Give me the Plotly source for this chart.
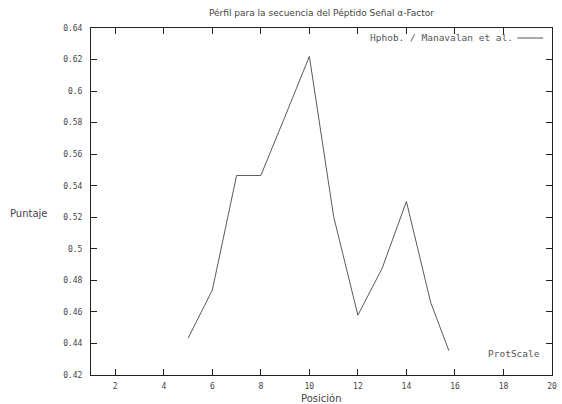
import plotly.graph_objects as go

positions = [5, 6, 7, 8, 9, 10, 11, 12, 13, 14, 15, 15.75]
scores = [0.4433, 0.4738, 0.5465, 0.5465, 0.584, 0.622, 0.5205, 0.4579, 0.4877, 0.530, 0.466, 0.4354]
x_ticks = [2, 4, 6, 8, 10, 12, 14, 16, 18, 20]
y_ticks = [0.42, 0.44, 0.46, 0.48, 0.5, 0.52, 0.54, 0.56, 0.58, 0.6, 0.62, 0.64]
y_labels = ["0.42", "0.44", "0.46", "0.48", "0.5", "0.52", "0.54", "0.56", "0.58", "0.6", "0.62", "0.64"]
series_name = "Hphob. / Manavalan et al."

W, H = 562, 404
L, R, T, B = 91, 5, 28, 29
pw, ph = W - L - R, H - T - B
txt = "#444444"
mono = "DejaVu Sans Mono, monospace"
sans = "DejaVu Sans, sans-serif"

fig = go.Figure()
fig.add_trace(go.Scatter(x=positions, y=scores, mode="lines",
                         line=dict(color="#5a5a5a", width=1), name=series_name,
                         showlegend=False))

axis_common = dict(showline=True, linecolor="#222222", linewidth=1, mirror="ticks",
                   ticks="inside", ticklen=6, tickcolor="#222222", showgrid=False,
                   zeroline=False, tickfont=dict(family=mono, size=8, color=txt))
fig.update_xaxes(range=[1, 20], tickvals=x_ticks, ticktext=[str(v) for v in x_ticks],
                 ticklabelstandoff=3, **axis_common)
fig.update_yaxes(range=[0.42, 0.64], tickvals=y_ticks, ticktext=y_labels,
                 ticklabelstandoff=6, **axis_common)

fig.update_layout(
    width=W, height=H, autosize=False,
    margin=dict(l=L, r=R, t=T, b=B, pad=0),
    paper_bgcolor="white", plot_bgcolor="white",
    title=dict(text="Pérfil para la secuencia del Péptido Señal α-Factor",
               font=dict(family=sans, size=9, color=txt),
               x=0.5, xref="paper", xanchor="center",
               y=1 - 13 / H, yref="container", yanchor="middle"),
)

def px_x(p):
    return (p - L) / pw

def px_y(p):
    return (H - B - p) / ph

annotations = [
    dict(text=series_name, x=px_x(520), y=px_y(38), xanchor="right", yanchor="middle",
         font=dict(family=mono, size=9.5, color="#555555")),
    dict(text="ProtScale", x=px_x(547), y=px_y(353), xanchor="right", yanchor="middle",
         font=dict(family=mono, size=9.5, color="#555555")),
    dict(text="Puntaje", x=px_x(7), y=px_y(213), xanchor="left", yanchor="middle",
         font=dict(family=sans, size=10, color=txt)),
    dict(text="Posición", x=0.5, y=px_y(398), xanchor="center", yanchor="middle",
         font=dict(family=sans, size=10, color=txt)),
]
for a in annotations:
    a.update(xref="paper", yref="paper", showarrow=False)
fig.update_layout(annotations=annotations)

fig.add_shape(type="line", xref="paper", yref="paper",
              x0=px_x(522), x1=px_x(548), y0=px_y(38), y1=px_y(38),
              line=dict(color="#555555", width=1))

fig.write_html("out.html")
